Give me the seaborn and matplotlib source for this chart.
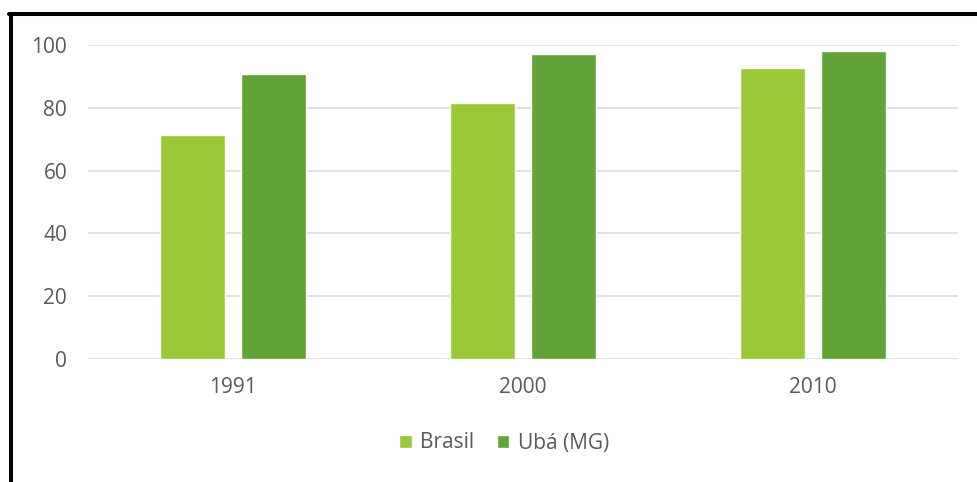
import matplotlib
matplotlib.use("Agg")
import matplotlib.pyplot as plt
from matplotlib.lines import Line2D
import seaborn as sns
import pandas as pd

# Data
years = ["1991", "2000", "2010"]
series_names = ["Brasil", "Ubá (MG)"]
brasil = [71.2, 81.5, 92.6]
uba = [90.8, 97.2, 98.1]
yticks = [0, 20, 40, 60, 80, 100]

colors = {"Brasil": "#9BC837", "Ubá (MG)": "#62A337"}

df = pd.DataFrame({
    "ano": years * 2,
    "serie": [series_names[0]] * len(years) + [series_names[1]] * len(years),
    "valor": brasil + uba,
})

sns.set_theme(style="white")
plt.rcParams["font.family"] = ["Open Sans", "DejaVu Sans"]

W, H = 978, 482
fig = plt.figure(figsize=(W / 100, H / 100), dpi=100)
ax = fig.add_axes([88 / W, 1 - 359 / H, (958 - 88) / W, (359 - 45) / H])

sns.barplot(data=df, x="ano", y="valor", hue="serie", order=years,
            hue_order=series_names, palette=colors, width=0.564, gap=0.206,
            ax=ax, errorbar=None, saturation=1, legend=True)

ax.set_ylim(0, 100)
ax.set_xlim(-0.5, 2.5)
ax.set_yticks(yticks)
ax.set_yticklabels([str(t) for t in yticks])
ax.yaxis.grid(True, color="#D9D9D9", linewidth=1.1)
ax.set_axisbelow(True)
for s in ax.spines.values():
    s.set_visible(False)
ax.set_xlabel("")
ax.set_ylabel("")
ax.tick_params(axis="y", length=0, pad=15, labelsize=15, labelcolor="#595959")
ax.tick_params(axis="x", length=0, pad=13, labelsize=15, labelcolor="#595959")

leg = ax.legend(loc="center", bbox_to_anchor=(504 / W, 1 - 443 / H),
                bbox_transform=fig.transFigure, ncol=2, frameon=False,
                fontsize=15, handlelength=0.6, handleheight=0.6,
                handletextpad=0.4, columnspacing=1.1)
for t in leg.get_texts():
    t.set_color("#595959")

# Outer frame (top and left edges)
fig.add_artist(Line2D([10.5 / W, 10.5 / W], [0, 1 - 13.7 / H],
                      transform=fig.transFigure, color="black", linewidth=2.9))
fig.add_artist(Line2D([8.5 / W, 1], [1 - 13.7 / H, 1 - 13.7 / H],
                      transform=fig.transFigure, color="black", linewidth=2.9))

fig.savefig("out.png", dpi=100, facecolor="white")
